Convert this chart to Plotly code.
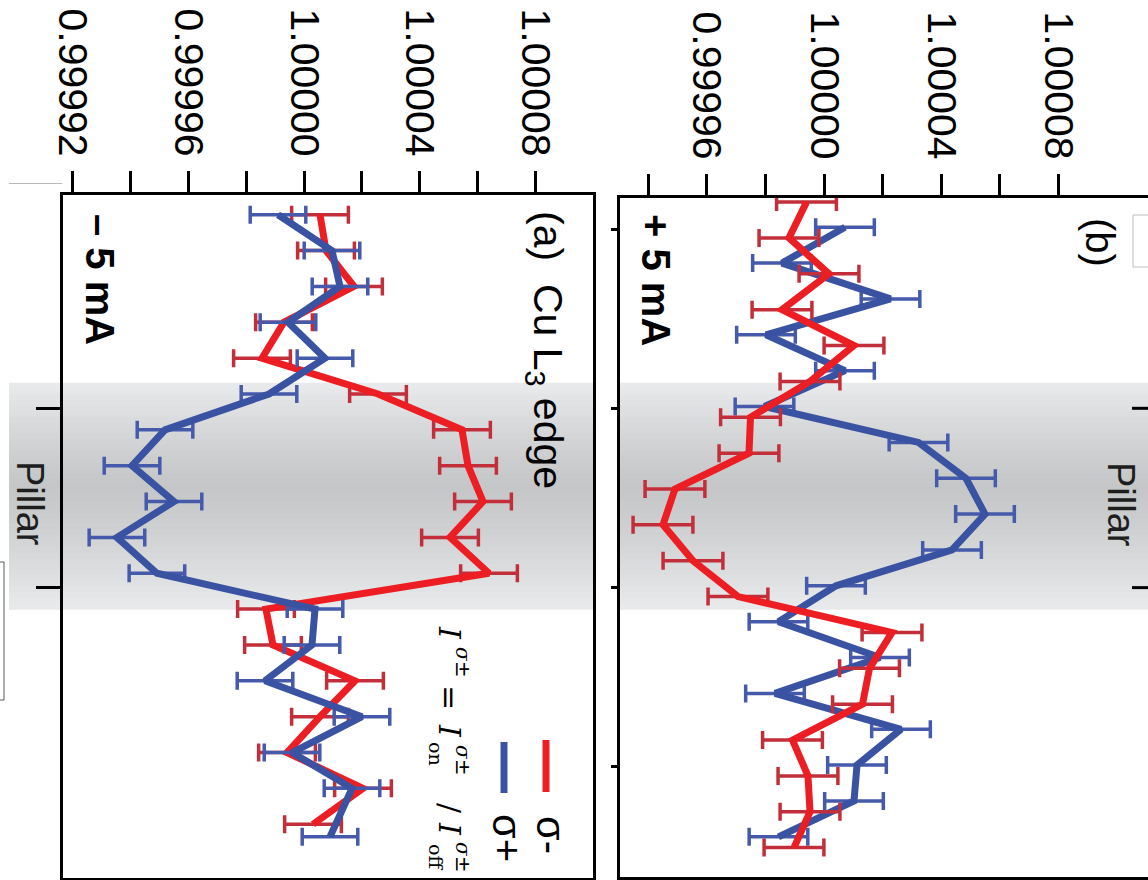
import plotly.graph_objects as go

# ---- data -------------------------------------------------------------
# scan position across the pillar (µm)
pos_a = [0.92, 1.12, 1.32, 1.52, 1.72, 1.92, 2.12, 2.32, 2.52, 2.72,
         2.92, 3.12, 3.32, 3.52, 3.72, 3.92, 4.12, 4.32]
pos_a_plus = [0.92, 1.12, 1.32, 1.52, 1.72, 1.92, 2.12, 2.32, 2.52, 2.72,
              2.92, 3.12, 3.32, 3.52, 3.72, 3.92, 4.12, 4.39]
pos_b_minus = [0.85, 1.05, 1.25, 1.45, 1.65, 1.85, 2.05, 2.25, 2.45, 2.65,
               2.85, 3.05, 3.25, 3.45, 3.65, 3.85, 4.05, 4.25, 4.45]
pos_b_plus = [0.99, 1.19, 1.39, 1.59, 1.79, 1.99, 2.19, 2.39, 2.59, 2.79,
              2.99, 3.19, 3.39, 3.59, 3.79, 3.99, 4.19, 4.39]

# (a) -5 mA, I = I_on / I_off
a_minus = [1.00000553, 1.00000760, 1.00001727, 0.99999309, 0.99998549,
           1.00002556, 1.00005457, 1.00005665, 1.00006183, 1.00005043,
           1.00006390, 0.99998687, 0.99998929, 1.00001762, 1.00000553,
           0.99999413, 1.00002038, 1.00000311]
a_minus_err = [0.0000098, 0.0000098, 0.0000098, 0.0000098, 0.0000098,
               0.0000098, 0.0000098, 0.0000098, 0.0000098, 0.0000098,
               0.0000098, 0.0000098, 0.0000098, 0.0000098, 0.0000098,
               0.0000098, 0.0000098, 0.0000098]
a_plus = [0.99999102, 1.00000967, 1.00001243, 0.99999447, 1.00000725,
          0.99998791, 0.99995200, 0.99994060, 0.99995510, 0.99993540,
          0.99994920, 1.00000380, 1.00000276, 0.99998653, 1.00002003,
          0.99999586, 1.00001658, 1.00000898]
a_plus_err = [0.0000096, 0.0000096, 0.0000096, 0.0000096, 0.0000096,
              0.0000096, 0.0000096, 0.0000096, 0.0000096, 0.0000096,
              0.0000096, 0.0000096, 0.0000096, 0.0000096, 0.0000096,
              0.0000096, 0.0000096, 0.0000096]

# (b) +5 mA
b_minus = [0.99999403, 0.99998806, 1.00000171, 0.99998568, 1.00001023,
           0.99999523, 0.99997494, 0.99997442, 0.99994919, 0.99994510,
           0.99995533, 0.99997067, 1.00002319, 1.00001552, 1.00001313,
           0.99998926, 0.99999454, 0.99999523, 0.99998977]
b_minus_err = [0.0000102, 0.0000102, 0.0000102, 0.0000102, 0.0000102,
               0.0000102, 0.0000102, 0.0000102, 0.0000102, 0.0000102,
               0.0000102, 0.0000102, 0.0000102, 0.0000102, 0.0000102,
               0.0000102, 0.0000102, 0.0000102, 0.0000102]
b_plus = [1.00000716, 0.99998568, 1.00002268, 0.99998022, 1.00000716,
          0.99997971, 1.00003222, 1.00004842, 1.00005490, 1.00004365,
          1.00000409, 0.99998448, 1.00001910, 0.99998329, 1.00002626,
          1.00001125, 1.00001023, 0.99998448]
b_plus_err = [0.0000100, 0.0000100, 0.0000100, 0.0000100, 0.0000100,
              0.0000100, 0.0000100, 0.0000100, 0.0000100, 0.0000100,
              0.0000100, 0.0000100, 0.0000100, 0.0000100, 0.0000100,
              0.0000100, 0.0000100, 0.0000100]

# intensity axis ticks
ticks_a = [0.99992, 0.99994, 0.99996, 0.99998, 1.00000, 1.00002, 1.00004, 1.00006, 1.00008]
labels_a = ["0.99992", " ", "0.99996", " ", "1.00000", " ", "1.00004", " ", "1.00008"]
ticks_b = [0.99994, 0.99996, 0.99998, 1.00000, 1.00002, 1.00004, 1.00006, 1.00008]
labels_b = [" ", "0.99996", " ", "1.00000", " ", "1.00004", " ", "1.00008"]

pillar_span = [1.858, 3.119]   # µm

# ---- styling ------------------------------------------------------------
W, H = 1148, 880
RED, RED_ERR = "rgb(236,30,36)", "rgb(194,46,58)"
BLUE, BLUE_ERR = "rgb(58,82,162)", "rgb(70,90,172)"
SANS = "Liberation Sans, Arial, sans-serif"
SERIF = "DejaVu Serif, Liberation Serif, serif"


def fx(p):
    return p / W


def fy(p):
    return 1 - p / H


fig = go.Figure()


def add_series(x, y, err, color, ecolor, xa, ya, name):
    fig.add_trace(go.Scatter(
        x=x, y=y, mode="lines", name=name, xaxis=xa, yaxis=ya,
        line=dict(color=color, width=7),
        error_x=dict(type="data", array=err, visible=True,
                     color=ecolor, thickness=3.5, width=9),
        showlegend=False, hoverinfo="skip"))


# panel (a): red first, blue on top
add_series(a_minus, pos_a, a_minus_err, RED, RED_ERR, "x", "y", "σ-")
add_series(a_plus, pos_a_plus, a_plus_err, BLUE, BLUE_ERR, "x", "y", "σ+")
# panel (b): blue first, red on top
add_series(b_plus, pos_b_plus, b_plus_err, BLUE, BLUE_ERR, "x2", "y2", "σ+")
add_series(b_minus, pos_b_minus, b_minus_err, RED, RED_ERR, "x2", "y2", "σ-")

# ---- shaded pillar band with a soft vertical gradient -------------------
shapes = []
n_strips = 40
y0, y1 = pillar_span
for i in range(n_strips):
    t0 = i / n_strips
    t1 = (i + 1) / n_strips
    tm = 0.5 * (t0 + t1)
    c = 0.46
    d = abs(tm - c) / (c if tm < c else 1 - c)
    g = int(round(197 + (233 - 197) * d ** 1.2))
    col = f"rgb({g},{g + 1},{g + 2})"
    ya_, yb_ = y0 + (y1 - y0) * t0, y0 + (y1 - y0) * t1
    for xref, yref, xl, xr in (("x domain", "y", 0, 1),
                               ("x2 domain", "y2", 0, 1),
                               ("paper", "y", fx(9), fx(62))):
        shapes.append(dict(type="rect", xref=xref, yref=yref,
                           x0=xl, x1=xr, y0=ya_, y1=yb_ + 0.004,
                           fillcolor=col, line=dict(width=0), layer="below"))

# legend swatches in panel (a)
shapes.append(dict(type="line", xref="paper", yref="paper",
                   x0=fx(546), x1=fx(546), y0=fy(740), y1=fy(792),
                   line=dict(color=RED, width=7)))
shapes.append(dict(type="line", xref="paper", yref="paper",
                   x0=fx(504), x1=fx(504), y0=fy(742), y1=fy(793),
                   line=dict(color=BLUE, width=7)))

# short ticks of the neighbouring frame at the right edge
for v in (2, 3):
    shapes.append(dict(type="line", xref="paper", yref="y2",
                       x0=fx(1132), x1=fx(1148), y0=v, y1=v,
                       line=dict(color="black", width=3)))

# thin frame fragments around the panels
shapes.append(dict(type="line", xref="paper", yref="paper",
                   x0=fx(9), x1=fx(62), y0=fy(183.5), y1=fy(183.5),
                   line=dict(color="rgb(185,185,185)", width=1)))
shapes.append(dict(type="path", xref="paper", yref="paper",
                   path=f"M 0 {fy(562)} L {fx(4)} {fy(562)} L {fx(4)} {fy(700)} L 0 {fy(700)}",
                   line=dict(color="rgb(90,90,90)", width=1)))
shapes.append(dict(type="rect", xref="paper", yref="paper",
                   x0=fx(1133), x1=fx(1152), y0=fy(267), y1=fy(215),
                   line=dict(color="rgb(190,190,190)", width=1),
                   fillcolor="white"))

# ---- text -----------------------------------------------------------------
ann = []


def text(x, y, s, size, family=SANS, color="black"):
    ann.append(dict(x=fx(x), y=fy(y), xref="paper", yref="paper", text=s,
                    textangle=90, showarrow=False, xanchor="center",
                    yanchor="middle", font=dict(family=family, size=size,
                                                color=color)))


text(545, 350, "(a)  Cu L<sub>3</sub> edge", 41)
text(100, 279, "<b>– 5 mA</b>", 40)
text(656, 280, "<b>+ 5 mA</b>", 40)
text(1100, 242, "(b)", 40)
text(1121, 504, "Pillar", 38, color="rgb(30,30,30)")
text(30, 503, "Pillar", 38, color="rgb(30,30,30)")
text(551, 835, "σ-", 40)
text(507, 838, "σ+", 40)

# formula  I^{σ±} = I_on^{σ±} / I_off^{σ±}
text(450, 633, "<i>I</i>", 30, SERIF)
text(463, 662, "<i>σ</i>±", 20, SERIF)
text(450, 697, "=", 30, SERIF)
text(450, 731, "<i>I</i>", 30, SERIF)
text(436, 754, "on", 19, SERIF)
text(463, 760, "<i>σ</i>±", 20, SERIF)
text(450, 808, "/", 30, SERIF)
text(450, 829, "<i>I</i>", 30, SERIF)
text(436, 857, "off", 19, SERIF)
text(463, 857, "<i>σ</i>±", 20, SERIF)

# ---- axes -------------------------------------------------------------------
val_axis = dict(side="top", ticks="outside", ticklen=21, tickwidth=3,
                tickcolor="black", tickangle=90,
                tickfont=dict(family=SANS, size=41, color="black"),
                showline=True, linewidth=3, linecolor="black", mirror=True,
                showgrid=False, zeroline=False, automargin=False,
                fixedrange=True)
pos_axis = dict(ticks="outside", tickwidth=3, tickcolor="black",
                showticklabels=False, showline=True, linewidth=3,
                linecolor="black", showgrid=False, zeroline=False,
                automargin=False, fixedrange=True)

fig.update_layout(
    width=W, height=H,
    margin=dict(l=0, r=0, t=0, b=0),
    paper_bgcolor="white", plot_bgcolor="rgba(0,0,0,0)",
    xaxis=dict(val_axis, domain=[fx(63), fx(593)], anchor="y",
               range=[0.99991676, 1.00009982],
               tickmode="array", tickvals=ticks_a, ticktext=labels_a),
    yaxis=dict(pos_axis, domain=[fy(878), fy(195)], anchor="x",
               range=[4.62, 0.81], tickmode="array", tickvals=[2, 3],
               ticklen=24, mirror=True),
    xaxis2=dict(val_axis, domain=[fx(620), 1.0], anchor="y2",
                range=[0.99993044, 1.00011048],
                tickmode="array", tickvals=ticks_b, ticktext=labels_b),
    yaxis2=dict(pos_axis, domain=[fy(877), fy(198)], anchor="x2",
                range=[4.614, 0.827], tickmode="array",
                tickvals=[1, 2, 3, 4], ticklen=6, mirror=False),
    shapes=shapes,
    annotations=ann,
    showlegend=False,
)

fig.write_html("out.html")
